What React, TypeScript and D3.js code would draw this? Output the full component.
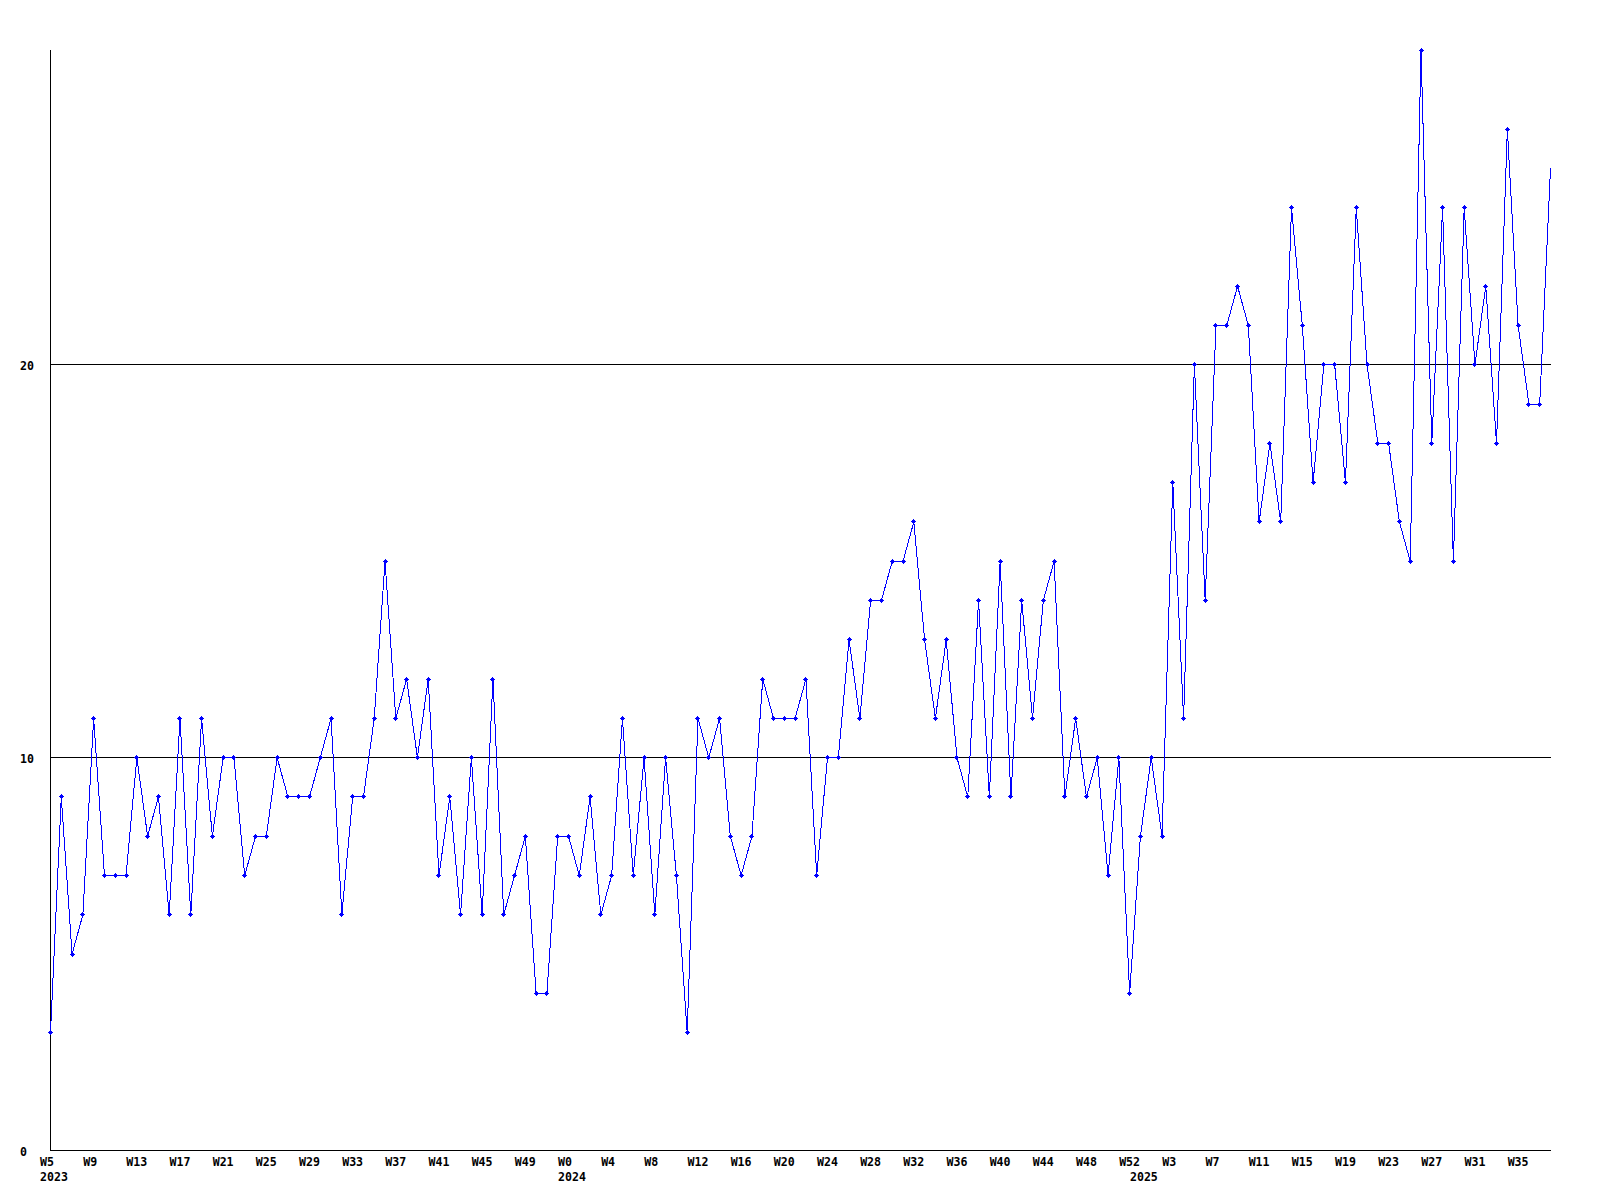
import React from "react";
import * as d3 from "d3";

// Weekly counts, 2023 W5 .. 2025 W38 (one value per week)
const weekValues: number[] = [
  3, 9, 5, 6, 11, 7, 7, 7, 10, 8,
  9, 6, 11, 6, 11, 8, 10, 10, 7, 8,
  8, 10, 9, 9, 9, 10, 11, 6, 9, 9,
  11, 15, 11, 12, 10, 12, 7, 9, 6, 10,
  6, 12, 6, 7, 8, 4, 4, 8, 8, 7,
  9, 6, 7, 11, 7, 10, 6, 10, 7, 3,
  11, 10, 11, 8, 7, 8, 12, 11, 11, 11,
  12, 7, 10, 10, 13, 11, 14, 14, 15, 15,
  16, 13, 11, 13, 10, 9, 14, 9, 15, 9,
  14, 11, 14, 15, 9, 11, 9, 10, 7, 10,
  4, 8, 10, 8, 17, 11, 20, 14, 21, 21,
  22, 21, 16, 18, 16, 24, 21, 17, 20, 20,
  17, 24, 20, 18, 18, 16, 15, 28, 18, 24,
  15, 24, 20, 22, 18, 26, 21, 19, 19, 25,
];

// Week tick labels and the week index (position in weekValues) they sit at
const weekTickLabels: string[] = [
  "W5", "W9", "W13", "W17", "W21", "W25", "W29", "W33", "W37", "W41", "W45", "W49",
  "W0", "W4", "W8", "W12", "W16", "W20", "W24", "W28", "W32", "W36", "W40", "W44", "W48", "W52",
  "W3", "W7", "W11", "W15", "W19", "W23", "W27", "W31", "W35",
];
const weekTickIndex: number[] = [
  0, 4, 8, 12, 16, 20, 24, 28, 32, 36, 40, 44,
  48, 52, 56, 60, 64, 68, 72, 76, 80, 84, 88, 92, 96, 100,
  104, 108, 112, 116, 120, 124, 128, 132, 136,
];
const yearLabels: string[] = ["2023", "2024", "2025"];
const yearIndex: number[] = [0, 48, 101];

const yTicks: number[] = [0, 10, 20];
const yGrid: number[] = [10, 20];
const yMax = 28;

const W = 1600;
const H = 1200;
const left = 50.5;
const right = 1550.5;
const top = 50.5;
const bottom = 1150.5;

const FONT = "'DejaVu Sans Mono', monospace";

export default function App() {
  const x = d3.scaleLinear().domain([0, weekValues.length - 1]).range([left, right]);
  const y = d3.scaleLinear().domain([0, yMax]).range([bottom, top]);

  const line = d3
    .line<number>()
    .x((_, i) => x(i))
    .y((d) => y(d));

  const markerPath = (cx: number, cy: number) => {
    const px = Math.round(cx - 0.5);
    const py = Math.round(cy - 0.5);
    return (
      `M${px - 2},${py}h5v1h-5z` +
      `M${px},${py - 2}h1v5h-1z` +
      `M${px - 1},${py - 1}h3v3h-3z`
    );
  };

  return (
    <svg
      width={W}
      height={H}
      viewBox={`0 0 ${W} ${H}`}
      style={{ position: "absolute", left: 0, top: 0, display: "block", background: "#fff" }}
    >
      <rect x={0} y={0} width={W} height={H} fill="#ffffff" />
      {/* gridlines */}
      {yGrid.map((v) => (
        <line
          key={`g${v}`}
          x1={left}
          x2={right}
          y1={Math.round(y(v)) - 0.5}
          y2={Math.round(y(v)) - 0.5}
          stroke="#000"
          strokeWidth={1}
          shapeRendering="crispEdges"
        />
      ))}
      {/* axes */}
      <line x1={left} x2={left} y1={top - 0.5} y2={bottom} stroke="#000" strokeWidth={1} shapeRendering="crispEdges" />
      <line x1={left} x2={right} y1={bottom - 0.5} y2={bottom - 0.5} stroke="#000" strokeWidth={1} shapeRendering="crispEdges" />

      {/* y labels */}
      {yTicks.map((v) => (
        <text
          key={`y${v}`}
          x={20}
          y={Math.round(y(v)) + 4.5}
          fontFamily={FONT}
          fontWeight="bold"
          fontSize={11.6}
          fill="#000"
        >
          {v}
        </text>
      ))}

      {/* x labels */}
      {weekTickLabels.map((lab, k) => (
        <text
          key={`w${k}`}
          x={x(weekTickIndex[k]) - 10.5}
          y={1166}
          fontFamily={FONT}
          fontWeight="bold"
          fontSize={11.6}
          fill="#000"
        >
          {lab}
        </text>
      ))}
      {yearLabels.map((lab, k) => (
        <text
          key={`yr${k}`}
          x={x(yearIndex[k]) - 10.5}
          y={1181}
          fontFamily={FONT}
          fontWeight="bold"
          fontSize={11.6}
          fill="#000"
        >
          {lab}
        </text>
      ))}

      {/* series line */}
      <path
        d={line(weekValues) || ""}
        fill="none"
        stroke="#0000ff"
        strokeWidth={1}
        shapeRendering="crispEdges"
      />
      {/* markers */}
      <path
        d={weekValues
          .slice(0, weekValues.length - 1)
          .map((v, i) => markerPath(x(i), y(v)))
          .join("")}
        fill="#0000ff"
        shapeRendering="crispEdges"
      />
    </svg>
  );
}
